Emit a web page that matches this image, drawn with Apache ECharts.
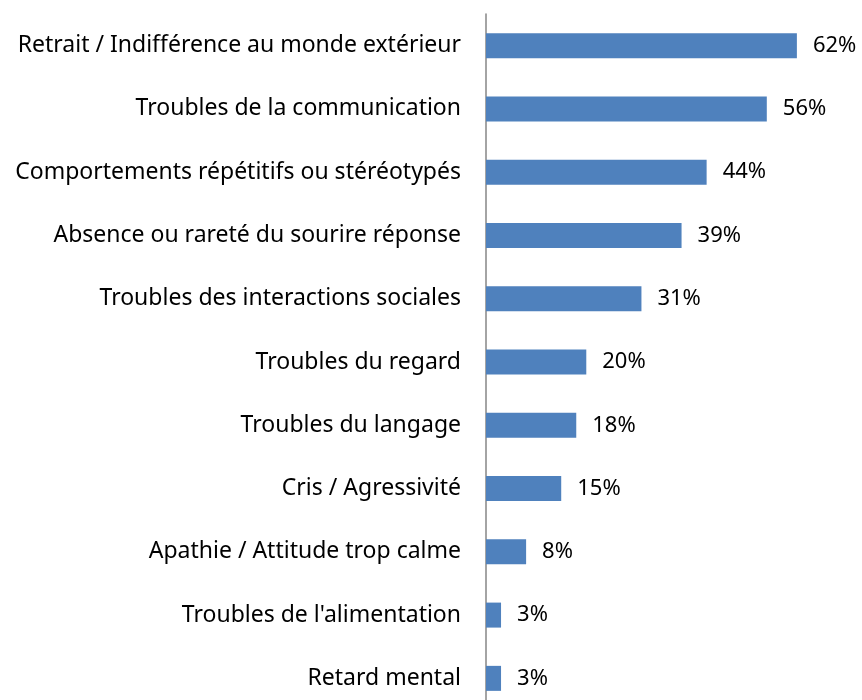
<!DOCTYPE html>
<html>
<head>
<meta charset="utf-8">
<script src="https://cdn.jsdelivr.net/npm/echarts@6/dist/echarts.min.js"></script>
<style>
  html, body { margin: 0; padding: 0; background: #fff; }
  #chart { width: 862px; height: 700px; }
</style>
</head>
<body>
<div id="chart"></div>
<script>
// catégories de haut en bas
const categories = [
  'Retrait / Indifférence au monde extérieur',
  'Troubles de la communication',
  'Comportements répétitifs ou stéréotypés',
  'Absence ou rareté du sourire réponse',
  'Troubles des interactions sociales',
  'Troubles du regard',
  'Troubles du langage',
  'Cris / Agressivité',
  'Apathie / Attitude trop calme',
  'Troubles de l\'alimentation',
  'Retard mental'
];
const values = [62, 56, 44, 39, 31, 20, 18, 15, 8, 3, 3];

const chart = echarts.init(document.getElementById('chart'));

chart.setOption({
  animation: false,
  grid: { left: 486, top: 14, width: 351, height: 696, outerBoundsMode: 'none' },
  xAxis: {
    type: 'value', min: 0, max: 70,
    show: false
  },
  yAxis: {
    type: 'category',
    data: categories,
    inverse: true,
    axisLine: { show: true, lineStyle: { color: '#868686', width: 1.5 } },
    axisTick: { show: false },
    axisLabel: {
      margin: 25,
      color: '#000',
      fontFamily: 'Noto Sans',
      fontSize: 23
    }
  },
  series: [{
    type: 'bar',
    data: values,
    barWidth: 25,
    itemStyle: { color: '#4f81bd' },
    label: {
      show: true,
      position: 'right',
      distance: 16,
      formatter: '{c}%',
      color: '#000',
      fontFamily: 'Noto Sans',
      fontSize: 22
    }
  }]
});
</script>
</body>
</html>
